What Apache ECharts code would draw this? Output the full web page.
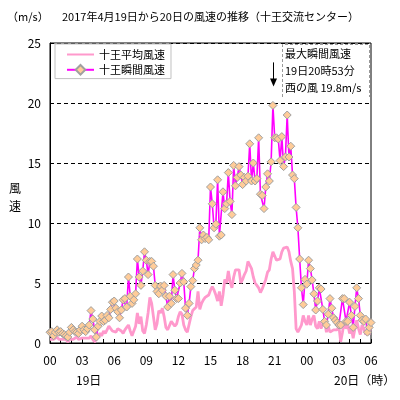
<!DOCTYPE html>
<html><head><meta charset="utf-8">
<script src="https://cdn.jsdelivr.net/npm/echarts@6/dist/echarts.min.js"></script>
<style>html,body{margin:0;padding:0;background:#fff}#c{width:400px;height:400px}</style>
</head><body><div id="c"></div>
<script>
// 10-minute data, 19日 00:00 – 20日 06:00
const avgSpeed = [
0.3,0.4,0.3,0.4,0.5,0.3,0.2,0.3,0.4,0.3,
0.1,0.3,0.4,0.3,0.4,0.5,0.3,0.2,0.4,0.3,
0.4,0.5,0.4,0.6,0.3,0.1,0.3,0.6,0.8,0.6,
1.0,0.8,1.1,1.4,1.2,1.0,1.1,0.9,1.2,1.3,
1.0,0.8,1.1,1.3,1.5,1.0,0.6,0.7,1.4,2.5,
1.6,2.2,1.0,0.8,1.5,2.5,3.8,3.3,2.2,1.1,
1.6,2.7,2.5,2.9,2.2,1.3,1.1,1.1,1.8,1.9,
1.4,1.6,2.2,2.6,2.4,1.5,1.1,0.9,1.0,2.2,
2.7,2.8,3.0,4.3,2.8,3.3,3.6,3.8,3.8,4.0,
4.4,4.7,4.4,4.0,3.5,4.3,3.1,4.0,5.3,5.0,
6.0,5.1,4.6,5.5,6.1,6.0,6.1,5.0,5.3,5.7,
6.0,6.8,6.8,6.2,5.5,5.0,4.8,4.6,4.2,4.5,
4.6,5.3,5.9,6.1,7.0,7.6,7.5,6.9,7.0,7.0,
7.6,7.9,8.0,8.0,7.6,6.8,6.2,4.3,1.2,0.9,
1.2,1.5,2.3,1.8,1.5,2.3,1.5,2.0,2.3,1.4,
1.2,1.8,1.2,1.6,1.8,0.9,1.4,0.9,0.8,1.1,
1.2,1.1,1.4,0.1,0.9,1.8,1.2,1.5,0.8,1.2,
0.4,1.2,1.9,1.2,0.7,1.5,1.2,0.7,1.0,0.7,1.5
];
const gustSpeed = [
0.9,0.95,0.6,0.9,1.1,0.9,0.95,0.8,0.7,0.6,
0.5,0.9,1.3,1.1,0.95,0.9,0.8,1.1,1.4,1.1,
0.95,1.2,1.5,2.7,2.0,1.1,0.5,1.4,1.8,2.25,
1.8,1.9,2.3,2.1,2.8,3.4,3.5,2.9,2.6,2.1,
2.75,3.6,3.7,3.0,5.5,3.9,3.3,3.6,4.1,7.0,
5.5,4.8,6.0,7.6,6.9,5.7,6.8,6.8,6.4,4.8,
4.3,4.1,4.75,4.4,4.8,3.9,3.0,3.9,3.3,5.7,
4.4,3.7,3.7,5.0,5.8,5.1,2.9,2.3,3.3,4.7,
5.2,6.2,6.5,6.9,9.6,8.6,9.0,8.7,8.8,8.6,
13.0,11.6,9.6,9.9,13.6,8.9,9.0,12.6,11.2,11.6,
14.2,11.8,10.7,14.8,13.1,13.8,14.7,14.0,13.2,13.8,
13.5,13.9,16.6,13.5,15.0,13.5,13.7,17.1,12.4,12.3,
11.2,13.0,14.1,13.5,15.1,19.8,17.1,17.1,17.0,15.2,
17.2,14.7,15.5,19.0,15.5,16.4,14.0,13.7,11.3,9.6,
7.0,4.6,3.2,5.3,4.9,6.9,6.2,5.25,4.1,2.75,
3.5,4.6,4.5,2.8,1.8,1.5,2.4,3.7,2.9,2.1,
1.9,1.7,1.5,1.5,3.7,3.7,1.8,1.8,3.4,2.3,
1.3,3.05,4.6,3.7,2.3,1.9,1.8,2.0,0.9,1.3,1.7
];
const seriesNames = ['十王平均風速', '十王瞬間風速'];
const titleText = '2017年4月19日から20日の風速の推移（十王交流センター）';
const unitText = '（m/s）';
const dayLabels = ['19日', '20日（時）'];
const yAxisName = '風速';
const peakNote = ['最大瞬間風速', '19日20時53分', '西の風 19.8m/s'];

// category labels "HH:MM" every 10 minutes
const timeLabels = [];
for (let k = 0; k < gustSpeed.length; k++) {
  const m = k * 10;
  const h = Math.floor(m / 60) % 24;
  const mm = m % 60;
  timeLabels.push(String(h).padStart(2, '0') + ':' + String(mm).padStart(2, '0'));
}

const FONT = '"Noto Sans CJK JP", sans-serif';
const chart = echarts.init(document.getElementById('c'), null, {renderer: 'canvas'});
const option = {
  animation: false,
  backgroundColor: '#fff',
  textStyle: {fontFamily: FONT},
  grid: {left: 50, top: 43, width: 321, height: 300, show: true, borderColor: '#000', borderWidth: 1, backgroundColor: 'transparent'},
  legend: {
    orient: 'vertical', left: 55, top: 44, padding: [5, 6, 3, 11], itemGap: 4,
    itemWidth: 27, itemHeight: 12, backgroundColor: '#fff', borderColor: '#c0c0c0', borderWidth: 1,
    textStyle: {fontSize: 11, color: '#000', fontFamily: FONT},
    data: [
      {name: seriesNames[0], itemStyle: {color: 'rgba(0,0,0,0)', borderColor: 'rgba(0,0,0,0)', borderWidth: 0, opacity: 0}},
      {name: seriesNames[1]}
    ]
  },
  xAxis: {
    type: 'category', data: timeLabels, boundaryGap: false,
    axisLine: {lineStyle: {color: '#000', width: 1}},
    axisTick: {inside: true, length: 4, interval: (i) => i % 6 === 0, lineStyle: {color: '#000'}},
    axisLabel: {interval: (i) => i % 18 === 0, formatter: (v) => v.slice(0, 2), color: '#000', fontSize: 12, margin: 11, fontFamily: FONT},
    splitLine: {show: false}
  },
  yAxis: {
    type: 'value', min: 0, max: 25, interval: 5,
    axisLine: {show: true, lineStyle: {color: '#000'}},
    axisTick: {show: false},
    axisLabel: {color: '#000', fontSize: 12, margin: 9, fontFamily: FONT},
    splitLine: {lineStyle: {color: '#000', type: [4, 3], width: 1}}
  },
  series: [
    {name: seriesNames[0], type: 'line', data: avgSpeed, symbol: 'none', showSymbol: false,
     lineStyle: {color: '#FF99CC', width: 2.8}, itemStyle: {color: '#FF99CC'}, z: 2},
    {name: seriesNames[1], type: 'line', data: gustSpeed, symbol: 'diamond', symbolSize: 8, showAllSymbol: true,
     lineStyle: {color: '#FF00FF', width: 1.6}, itemStyle: {color: '#FFCC99', borderColor: '#A0A0A0', borderWidth: 1}, z: 3}
  ]
};
chart.setOption(option);

// annotation positioned from the peak value
let peakIdx = 0;
gustSpeed.forEach((v, k) => { if (v > gustSpeed[peakIdx]) peakIdx = k; });
const p = chart.convertToPixel({seriesIndex: 1}, [peakIdx, gustSpeed[peakIdx]]);
const ax = Math.round(p[0]) + 0.5;
const tipY = p[1] - 19;

chart.setOption({
  graphic: [
    {type: 'text', left: 7, top: 11, style: {text: unitText, font: '11px ' + FONT, fill: '#000'}},
    {type: 'text', left: 62, top: 11, style: {text: titleText, font: '11px ' + FONT, fill: '#000'}},
    {type: 'text', left: 9, top: 179, style: {text: yAxisName.split('').join('\n'), font: '12px ' + FONT, fill: '#000', lineHeight: 18}},
    {type: 'text', left: 76, top: 374, style: {text: dayLabels[0], font: '12px ' + FONT, fill: '#000'}},
    {type: 'text', left: 334, top: 374, style: {text: dayLabels[1], font: '12px ' + FONT, fill: '#000'}},
    {type: 'polyline', shape: {points: [[282.5, 97], [282.5, 44.5], [369.5, 44.5], [369.5, 97]]},
     style: {stroke: '#999', lineWidth: 1, lineDash: [3, 2], fill: null}},
    {type: 'text', left: 285, top: 48, style: {text: peakNote[0], font: '11px ' + FONT, fill: '#000'}},
    {type: 'text', left: 285, top: 65, style: {text: peakNote[1], font: '11px ' + FONT, fill: '#000'}},
    {type: 'text', left: 285, top: 82, style: {text: peakNote[2], font: '11px ' + FONT, fill: '#000'}},
    {type: 'line', shape: {x1: ax, y1: tipY - 24, x2: ax, y2: tipY - 6}, style: {stroke: '#000', lineWidth: 1}},
    {type: 'polygon', shape: {points: [[ax - 3.5, tipY - 8], [ax + 3.5, tipY - 8], [ax, tipY]]}, style: {fill: '#000'}}
  ]
});
</script>
</body></html>
